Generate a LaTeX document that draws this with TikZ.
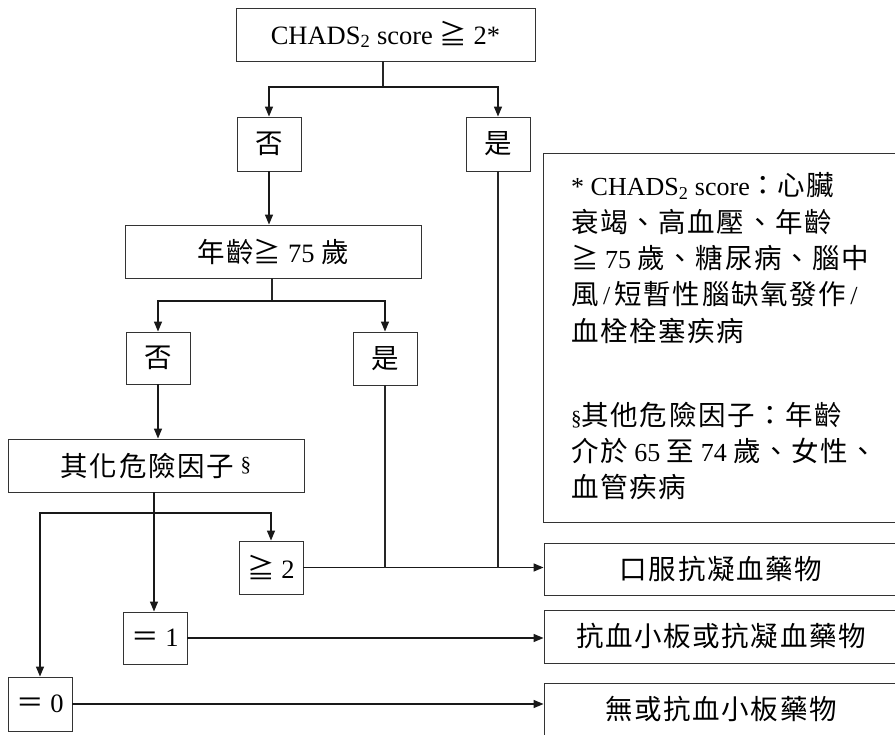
\documentclass[tikz,border=0pt]{standalone}
\usepackage{fontspec}
\setmainfont{Liberation Serif}
\newfontfamily\cjkf[LetterSpace=6]{Noto Sans CJK TC}
\newfontfamily\cjksymf{Noto Sans CJK TC}
\newcommand{\cjk}{\cjkf\fontsize{27.5}{30}\selectfont}
\newcommand{\cjksym}{\cjksymf\fontsize{27.5}{30}\selectfont}
\usetikzlibrary{arrows.meta}
\begin{document}
\begin{tikzpicture}[x=1pt,y=-1pt,
  box/.style={draw=black!80, line width=0.9pt, inner sep=0pt, align=center,
    font=\fontsize{26.5}{30}\selectfont},
  conn/.style={line width=1.4pt, draw=black!90},
  thin/.style={line width=1.1pt, draw=black!85},
  arr/.style={conn, -{Triangle[length=10pt,width=8pt]}}]
\useasboundingbox (0,0) rectangle (895,735);
\clip (0,0) rectangle (895,735);
% decision boxes
\node[box, minimum width=299, minimum height=53] (top) at (385.5,34.5)
  {CHADS\textsubscript{2} score {\cjksym ≧} 2*};
\node[box, minimum width=64, minimum height=54] (no1) at (269,144) {\cjk 否};
\node[box, minimum width=64, minimum height=54] (yes1) at (498,144) {\cjk 是};
\node[box, minimum width=296, minimum height=53] (age) at (273,251.5)
  {{\cjk 年齡}{\cjksym ≧} 75 {\cjk 歲}};
\node[box, minimum width=64, minimum height=52] (no2) at (158,358) {\cjk 否};
\node[box, minimum width=64, minimum height=53] (yes2) at (385,358.5) {\cjk 是};
\node[box, minimum width=296, minimum height=53] (risk) at (156,465.5)
  {{\cjk 其化危險因子} \raisebox{5pt}{\fontsize{21}{21}\selectfont §}};
\node[box, minimum width=64, minimum height=53] (ge2) at (271,567.5) {{\cjksym ≧} 2};
\node[box, minimum width=64, minimum height=52] (eq1) at (155,638) {{\cjksym ＝} 1};
\node[box, minimum width=64, minimum height=54] (eq0) at (40,704) {{\cjksym ＝} 0};
% outcome boxes
\node[box, minimum width=354, minimum height=52] (out1) at (721,569) {\cjk 口服抗凝血藥物};
\node[box, minimum width=354, minimum height=53] (out2) at (721,636.5) {\cjk 抗血小板或抗凝血藥物};
\node[box, minimum width=354, minimum height=53] (out3) at (721,709.5) {\cjk 無或抗血小板藥物};
% note box
\node[draw=black!80, line width=0.9pt, anchor=north west, minimum width=355,
  minimum height=369, inner sep=0pt] (note) at (543,153) {};
\node[anchor=north west, align=left, inner sep=0pt,
  font=\fontsize{26}{36.3}\selectfont] (notetext) at (571,172.5)
  {* CHADS\textsubscript{2} score{\cjksym ：}{\cjk 心臟}\\
   {\cjk 衰竭、高血壓、年齡}\\
   {\cjksym ≧} 75 {\cjk 歲、糖尿病、腦中}\\
   {\cjk 風}\,/\,{\cjk 短暫性腦缺氧發作}\,/\\
   {\cjk 血栓栓塞疾病}\\[48pt]
   {\fontsize{21}{21}\selectfont §}{\cjk 其他危險因子：年齡}\\
   {\cjk 介於} 65 {\cjk 至} 74 {\cjk 歲、女性、}\\
   {\cjk 血管疾病}};
% connectors
\coordinate (j1) at (383,87);
\draw[thin] (top.south -| j1) -- (j1);
\draw[arr] (j1) -| (no1.north);
\draw[arr] (j1) -| (yes1.north);
\draw[arr] (no1.south) -- (no1.south |- age.north);
\coordinate (j2) at (272,301);
\draw[thin] (age.south -| j2) -- (j2);
\draw[arr] (j2) -| (no2.north);
\draw[arr] (j2) -| (yes2.north);
\draw[arr] (no2.south) -- (no2.south |- risk.north);
\coordinate (j3) at (154,513);
\draw[arr] (risk.south -| j3) -- (j3 |- eq1.north);
\draw[arr] (j3) -| (ge2.north);
\draw[arr] (j3) -| (eq0.north);
\draw[arr] (ge2.east) -- (out1.west |- ge2.east);
\draw[thin] (yes2.south) -- (yes2.south |- ge2.east);
\draw[thin] (yes1.south) -- (yes1.south |- ge2.east);
\draw[arr] (eq1.east) -- (out2.west |- eq1.east);
\draw[arr] (eq0.east) -- (out3.west |- eq0.east);
\end{tikzpicture}
\end{document}
